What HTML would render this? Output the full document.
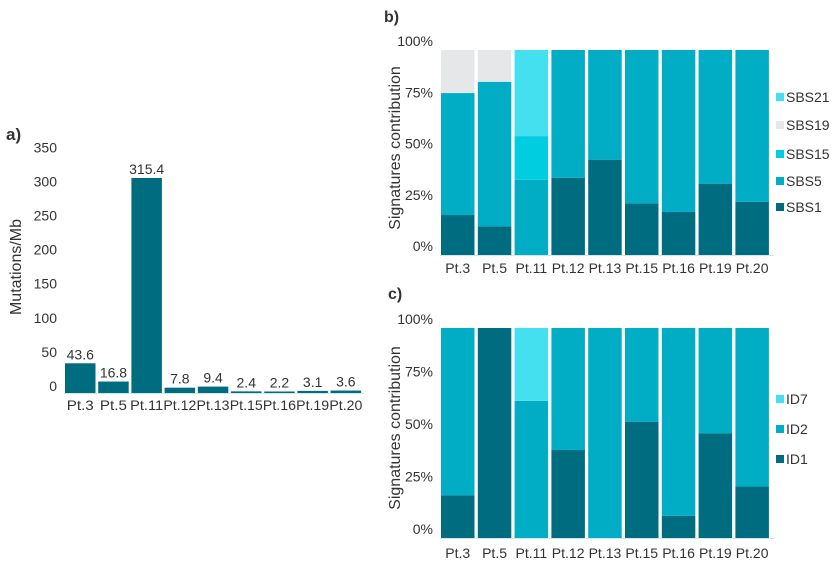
<!DOCTYPE html>
<html><head><meta charset="utf-8">
<style>
html,body{margin:0;padding:0;background:#fff;}
svg text{font-family:"Liberation Sans",sans-serif;fill:#333;}
</style></head>
<body>
<svg id="fig" width="833" height="566" viewBox="0 0 833 566" xmlns="http://www.w3.org/2000/svg">
<text x="6" y="140" font-size="17" font-weight="bold" fill="#111">a)</text>
<text x="384" y="22" font-size="16" font-weight="bold" fill="#111">b)</text>
<text x="388" y="299" font-size="16" font-weight="bold" fill="#111">c)</text>
<text transform="translate(21,267) rotate(-90)" text-anchor="middle" font-size="16">Mutations/Mb</text>
<text transform="translate(400,148) rotate(-90)" text-anchor="middle" font-size="16">Signatures contribution</text>
<text transform="translate(400,428) rotate(-90)" text-anchor="middle" font-size="16">Signatures contribution</text>
<g id="ga"></g><g id="gb"></g><g id="gc"></g>
</svg>
<script>
const categories = ["Pt.3","Pt.5","Pt.11","Pt.12","Pt.13","Pt.15","Pt.16","Pt.19","Pt.20"];
const tmbValues = [43.6,16.8,315.4,7.8,9.4,2.4,2.2,3.1,3.6];
const tmbTicks = [0,50,100,150,200,250,300,350];
const sbs1 = [19.5,14,0,37.7,46.5,25.2,21,34.8,26];
const sbs5 = [59.5,70.5,36.7,62.3,53.5,74.8,79,65.2,74];
const sbs15 = [0,0,21.3,0,0,0,0,0,0];
const sbs19 = [21,15.5,0,0,0,0,0,0,0];
const sbs21 = [0,0,42,0,0,0,0,0,0];
const id1 = [20.3,100,0,41.9,0,55.4,10.6,49.8,24.5];
const id2 = [79.7,0,65.3,58.1,100,44.6,89.4,50.2,75.5];
const id7 = [0,0,34.7,0,0,0,0,0,0];
const pctTicks = [0,25,50,75,100];
const pctTickLabels = ["0%","25%","50%","75%","100%"];

const NS="http://www.w3.org/2000/svg";
function mk(tag,attrs,parent,txt){const e=document.createElementNS(NS,tag);for(const k in attrs)e.setAttribute(k,attrs[k]);if(txt!==undefined)e.textContent=txt;parent.appendChild(e);return e;}

// Panel a
const ga=document.getElementById('ga');
const aBase=393, aScale=215/315.4, aX0=65, aStep=33.2, aW=30.5;
const ay=v=>aBase-v*aScale;
const ax=i=>aX0+i*aStep;
tmbTicks.forEach(t=>{
  const el=mk('text',{x:57,y:ay(t)-2,'text-anchor':'end','font-size':14},ga,String(t));
  
  
});
mk('line',{x1:64,x2:364,y1:aBase+0.5,y2:aBase+0.5,stroke:'#cde8ec','stroke-width':1},ga);
categories.forEach((c,i)=>{
  const h=Math.max(1.5,tmbValues[i]*aScale);
  const r=mk('rect',{x:ax(i),y:aBase-h,width:aW,height:h,fill:'#006c80'},ga);
  
  
  const v=mk('text',{x:ax(i)+aW/2,y:aBase-h-4,'text-anchor':'middle','font-size':14},ga,tmbValues[i].toFixed(1));
  
  
  const l=mk('text',{x:ax(i)+aW/2,y:410,'text-anchor':'middle','font-size':14,'textLength':c.length>4?33:27,'lengthAdjust':'spacingAndGlyphs'},ga,c);
  
  
});

function stacked(g,prefix,top,bottom,series,names,colors,legendY,labelY){
  const X0=441,step=36.8,W=33.5;
  const y=p=>bottom-p/100*(bottom-top);
  pctTicks.forEach((t,k)=>{
    const el=mk('text',{x:433,y:y(t)-4,'text-anchor':'end','font-size':14},g,pctTickLabels[k]);
    
    
  });
  mk('line',{x1:440,x2:774,y1:bottom+0.5,y2:bottom+0.5,stroke:'#cde8ec'},g);
  categories.forEach((c,i)=>{
    let acc=0;
    series.forEach((s,j)=>{
      const v=s[i]; if(v<=0)return;
      const r=mk('rect',{x:X0+i*step,y:y(acc+v),width:W,height:y(acc)-y(acc+v),fill:colors[j]},g);
      
      
      acc+=v;
    });
    const l=mk('text',{x:X0+i*step+W/2,y:labelY,'text-anchor':'middle','font-size':14},g,c);
    
    
  });
  for(let j=series.length-1,k=0;j>=0;j--,k++){
    const ly=legendY[k];
    const sq=mk('rect',{x:776,y:ly-5,width:8,height:8,fill:colors[j]},g);
    
    
    const t=mk('text',{x:786,y:ly+4,'font-size':14},g,names[j]);
    
    
  }
}
stacked(document.getElementById('gb'),'b',50,255,[sbs1,sbs5,sbs15,sbs19,sbs21],
  ["SBS1","SBS5","SBS15","SBS19","SBS21"],["#006c80","#00adc4","#00cde0","#e6e7e8","#45e0ef"],
  [98,126,155,182,208],273);
stacked(document.getElementById('gc'),'c',328,538,[id1,id2,id7],
  ["ID1","ID2","ID7"],["#006c80","#00adc4","#45e0ef"],[400,430,460],558);
</script>
</body></html>
